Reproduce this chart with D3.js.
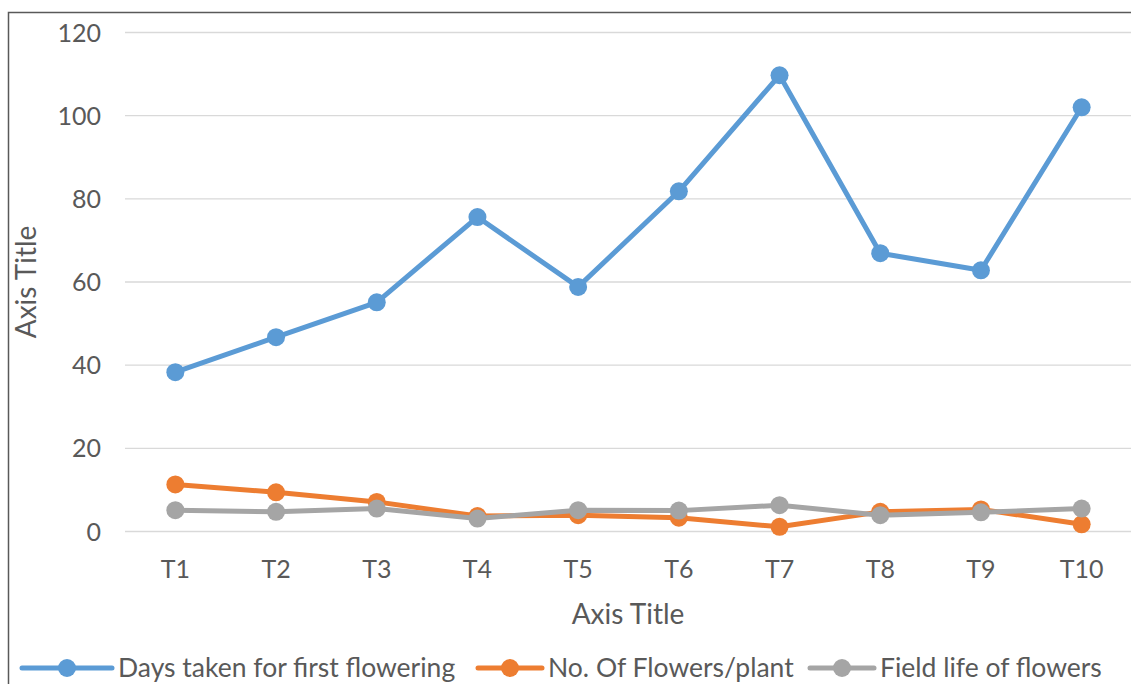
<!DOCTYPE html>
<html>
<head>
<meta charset="utf-8">
<script src="https://cdn.jsdelivr.net/npm/d3@7"></script>
<style>
  html, body { margin: 0; padding: 0; background: #fff; }
  svg { display: block; }
  text { font-family: Lato, "Open Sans", sans-serif; }
</style>
</head>
<body>
<svg id="chart" width="1131" height="684"></svg>
<script>
const categories = ["T1", "T2", "T3", "T4", "T5", "T6", "T7", "T8", "T9", "T10"];
const daysToFlowering = [38.2, 46.6, 55, 75.5, 58.7, 81.7, 109.6, 66.8, 62.7, 101.9];
const flowersPerPlant = [11.2, 9.3, 7.0, 3.6, 3.8, 3.2, 1.0, 4.6, 5.2, 1.6];
const fieldLife = [5.0, 4.6, 5.4, 3.0, 5.0, 4.9, 6.2, 3.8, 4.5, 5.4];
const yTicks = [0, 20, 40, 60, 80, 100, 120];
const seriesNames = ["Days taken for first flowering", "No. Of Flowers/plant", "Field life of flowers"];
const seriesColors = ["#5b9bd5", "#ed7d31", "#a5a5a5"];

const series = [daysToFlowering, flowersPerPlant, fieldLife].map((vals, i) => ({
  name: seriesNames[i], color: seriesColors[i], values: vals
}));

const svg = d3.select("#chart");
const font = "Lato, 'Open Sans', sans-serif";

// chart frame
svg.append("rect")
  .attr("x", 8.5).attr("y", 12.5)
  .attr("width", 1140).attr("height", 700)
  .attr("fill", "none").attr("stroke", "#595959").attr("stroke-width", 1.5);

const plot = { left: 125, right: 1132, top: 32, bottom: 531 };

const x = d3.scaleBand().domain(categories).range([plot.left, plot.right]);
const y = d3.scaleLinear().domain([0, 120]).range([plot.bottom, plot.top]);
const cx = d => x(d) + x.bandwidth() / 2;

// horizontal gridlines
svg.append("g")
  .selectAll("line")
  .data(yTicks)
  .join("line")
  .attr("x1", plot.left).attr("x2", plot.right)
  .attr("y1", d => y(d) + 0.5).attr("y2", d => y(d) + 0.5)
  .attr("stroke", "#d9d9d9").attr("stroke-width", 1.3);

// y axis labels
const yAxis = svg.append("g")
  .attr("transform", `translate(${plot.left - 24},0)`)
  .call(d3.axisLeft(y).tickValues(yTicks).tickSize(0).tickPadding(0));
yAxis.select(".domain").remove();
yAxis.selectAll("text")
  .attr("fill", "#595959").attr("font-size", 25)
  .attr("dy", "0.36em")
  .style("font-family", font);

// x axis labels
const xAxis = svg.append("g")
  .attr("transform", `translate(0,${plot.bottom + 47})`)
  .call(d3.axisBottom(x).tickSize(0).tickPadding(0));
xAxis.select(".domain").remove();
xAxis.selectAll("text")
  .attr("fill", "#595959").attr("font-size", 25)
  .attr("dy", 0)
  .style("font-family", font);

// axis titles
svg.append("text")
  .attr("x", 628).attr("y", 624)
  .attr("text-anchor", "middle")
  .attr("fill", "#595959").attr("font-size", 28)
  .text("Axis Title");
svg.append("text")
  .attr("transform", `translate(36,282) rotate(-90)`)
  .attr("text-anchor", "middle")
  .attr("fill", "#595959").attr("font-size", 28)
  .text("Axis Title");

// series lines and markers
const line = d3.line()
  .x((d, i) => cx(categories[i]))
  .y(d => y(d));

const seriesG = svg.append("g")
  .selectAll("g")
  .data(series)
  .join("g");

seriesG.append("path")
  .attr("d", d => line(d.values))
  .attr("fill", "none")
  .attr("stroke", d => d.color)
  .attr("stroke-width", 5)
  .attr("stroke-linejoin", "round")
  .attr("stroke-linecap", "round");

seriesG.selectAll("circle")
  .data(d => d.values.map((v, i) => ({ v, i, color: d.color })))
  .join("circle")
  .attr("cx", d => cx(categories[d.i]))
  .attr("cy", d => y(d.v))
  .attr("r", 9)
  .attr("fill", d => d.color);

// legend
const legendItems = [
  { x0: 22, text: 118 },
  { x0: 478, text: 548 },
  { x0: 810, text: 880 }
];
const legendY = 668;
const legend = svg.append("g")
  .selectAll("g")
  .data(series)
  .join("g");
legend.append("line")
  .attr("x1", (d, i) => legendItems[i].x0)
  .attr("x2", (d, i) => legendItems[i].text - 6)
  .attr("y1", legendY).attr("y2", legendY)
  .attr("stroke", d => d.color).attr("stroke-width", 5)
  .attr("stroke-linecap", "round");
legend.append("circle")
  .attr("cx", (d, i) => (legendItems[i].x0 + legendItems[i].text - 6) / 2)
  .attr("cy", legendY)
  .attr("r", 9)
  .attr("fill", d => d.color);
legend.append("text")
  .attr("x", (d, i) => legendItems[i].text)
  .attr("y", legendY + 9)
  .attr("fill", "#595959").attr("font-size", 26.5)
  .text(d => d.name);
</script>
</body>
</html>
